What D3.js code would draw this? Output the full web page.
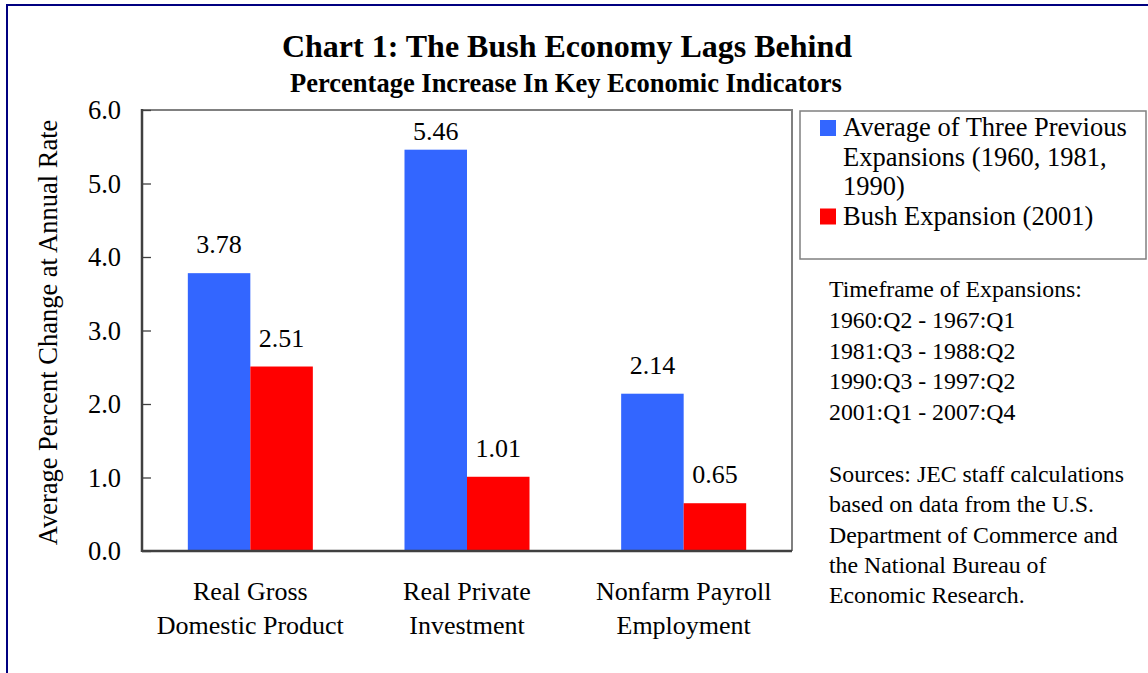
<!DOCTYPE html>
<html>
<head>
<meta charset="utf-8">
<script src="https://cdn.jsdelivr.net/npm/d3@7"></script>
<style>
  html, body { margin: 0; padding: 0; background: #fff; }
  svg { display: block; }
  text { font-family: "Liberation Serif", "Times New Roman", serif; fill: #000; }
</style>
</head>
<body>
<svg id="chart" width="1148" height="673"></svg>
<script>
const categories = [["Real Gross", "Domestic Product"], ["Real Private", "Investment"], ["Nonfarm Payroll", "Employment"]];
const seriesNames = ["Average of Three Previous Expansions (1960, 1981, 1990)", "Bush Expansion (2001)"];
const legendLines = [["Average of Three Previous", "Expansions (1960, 1981,", "1990)"], ["Bush Expansion (2001)"]];
const previousAvg = [3.78, 5.46, 2.14];
const bushExpansion = [2.51, 1.01, 0.65];
const yTicks = [0, 1, 2, 3, 4, 5, 6];
const titleText = "Chart 1: The Bush Economy Lags Behind";
const subtitleText = "Percentage Increase In Key Economic Indicators";
const yLabel = "Average Percent Change at Annual Rate";
const timeframeLines = ["Timeframe of Expansions:", "1960:Q2 - 1967:Q1", "1981:Q3 - 1988:Q2", "1990:Q3 - 1997:Q2", "2001:Q1 - 2007:Q4"];
const sourceLines = ["Sources: JEC staff calculations", "based on data from the U.S.", "Department of Commerce and", "the National Bureau of", "Economic Research."];
const colors = ["#3366FF", "#FF0000"];

const svg = d3.select("#chart");

// outer border
svg.append("rect").attr("x", 7).attr("y", 5).attr("width", 1180).attr("height", 700)
  .attr("fill", "none").attr("stroke", "#000080").attr("stroke-width", 2);

// titles
svg.append("text").attr("x", 567).attr("y", 57).attr("text-anchor", "middle")
  .attr("font-size", 32).attr("font-weight", "bold").text(titleText);
svg.append("text").attr("x", 566).attr("y", 92).attr("text-anchor", "middle")
  .attr("font-size", 26.5).attr("font-weight", "bold").text(subtitleText);

const plot = { left: 142, right: 792, top: 110, bottom: 551 };

const y = d3.scaleLinear().domain([0, 6]).range([plot.bottom, plot.top]);
const x0 = d3.scaleBand().domain(d3.range(categories.length))
  .range([plot.left, plot.right]).paddingInner(0.423).paddingOuter(0.2115);
const x1 = d3.scaleBand().domain([0, 1]).range([0, x0.bandwidth()]);

// plot frame (top & right gray)
svg.append("path")
  .attr("d", `M${plot.left},${plot.top}H${plot.right}V${plot.bottom}`)
  .attr("fill", "none").attr("stroke", "#808080").attr("stroke-width", 2);

// bars
const series = [previousAvg, bushExpansion];
const g = svg.append("g");
categories.forEach((c, i) => {
  series.forEach((s, j) => {
    const bx = x0(i) + x1(j);
    g.append("rect").attr("x", bx).attr("y", y(s[i]))
      .attr("width", x1.bandwidth()).attr("height", y(0) - y(s[i]))
      .attr("fill", colors[j]);
    g.append("text").attr("x", bx + x1.bandwidth() / 2)
      .attr("y", Math.max(y(s[i]) - 20, plot.top + 30))
      .attr("text-anchor", "middle").attr("font-size", 26).text(s[i].toFixed(2));
  });
});

// y axis
const yAxis = d3.axisRight(y).tickValues(yTicks).tickSize(9).tickFormat("");
const ya = svg.append("g").attr("transform", `translate(${plot.left},0)`).call(yAxis);
ya.select(".domain").remove();
ya.selectAll(".tick line").attr("stroke", "#404040").attr("stroke-width", 1.3);
svg.append("line").attr("x1", plot.left).attr("x2", plot.left).attr("y1", plot.top - 1).attr("y2", plot.bottom + 1)
  .attr("stroke", "#404040").attr("stroke-width", 2.5);
svg.append("line").attr("x1", plot.left).attr("x2", plot.right).attr("y1", plot.bottom).attr("y2", plot.bottom)
  .attr("stroke", "#404040").attr("stroke-width", 2.5);

svg.append("g").selectAll("text").data(yTicks).join("text")
  .attr("x", 121).attr("y", d => y(d)).attr("dy", "0.35em")
  .attr("text-anchor", "end").attr("font-size", 26.5).text(d => d.toFixed(1));

// y label
svg.append("text").attr("transform", `translate(57,${(plot.top + plot.bottom) / 2 + 2}) rotate(-90)`)
  .attr("text-anchor", "middle").attr("font-size", 26.5).text(yLabel);

// x labels
categories.forEach((c, i) => {
  const cx = x0(i) + x0.bandwidth() / 2;
  c.forEach((line, k) => {
    svg.append("text").attr("x", cx).attr("y", 600 + k * 34)
      .attr("text-anchor", "middle").attr("font-size", 26).text(line);
  });
});

// legend
svg.append("rect").attr("x", 800).attr("y", 111).attr("width", 346).attr("height", 148)
  .attr("fill", "none").attr("stroke", "#808080").attr("stroke-width", 1.5);
const legendBase = [[136, 165.5, 195], [224.5]];
legendLines.forEach((lines, j) => {
  svg.append("rect").attr("x", 820).attr("y", legendBase[j][0] - 16).attr("width", 16).attr("height", 16)
    .attr("fill", colors[j]);
  lines.forEach((l, k) => {
    svg.append("text").attr("x", 843).attr("y", legendBase[j][k]).attr("font-size", 26.5).text(l);
  });
});

// side notes
timeframeLines.forEach((l, k) => {
  svg.append("text").attr("x", 829).attr("y", 297 + k * 30.8).attr("font-size", 23.8).text(l);
});
sourceLines.forEach((l, k) => {
  svg.append("text").attr("x", 829).attr("y", 482 + k * 30.3).attr("font-size", 23.8).text(l);
});
</script>
</body>
</html>
